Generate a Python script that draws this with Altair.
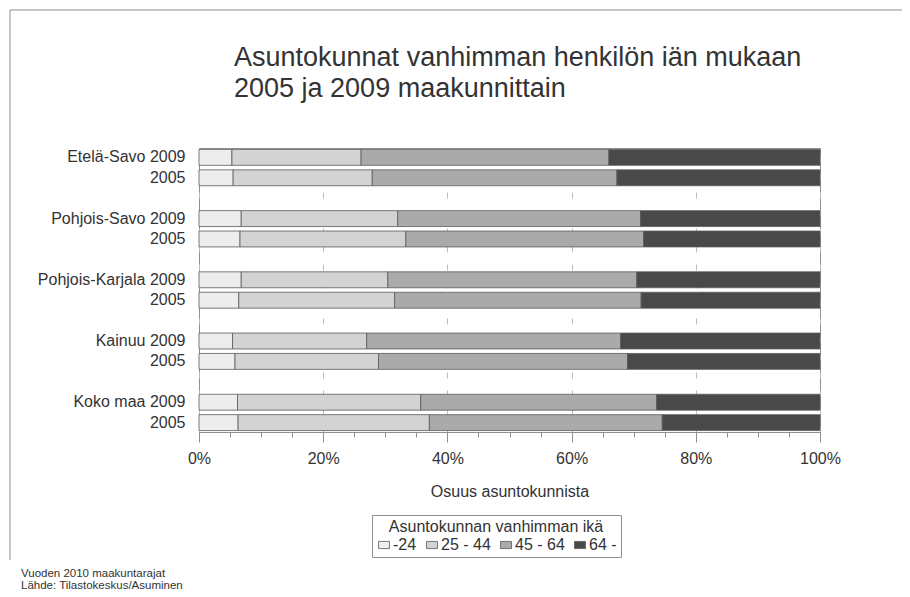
import altair as alt
import pandas as pd

# ---- data ----
regions = ["Etelä-Savo", "Pohjois-Savo", "Pohjois-Karjala", "Kainuu", "Koko maa"]
years = ["2009", "2005"]
age_groups = ["-24", "25 - 44", "45 - 64", "64 -"]
# shares (%) per row, rows ordered region by region: 2009 then 2005
share_u24 = [5.3, 5.5, 6.8, 6.6, 6.8, 6.4, 5.4, 5.8, 6.2, 6.3]
share_25_44 = [20.8, 22.4, 25.2, 26.7, 23.6, 25.1, 21.6, 23.1, 29.5, 30.8]
share_45_64 = [39.9, 39.4, 39.1, 38.3, 40.1, 39.7, 40.9, 40.1, 38.0, 37.5]
share_64p = [34.0, 32.7, 28.9, 28.4, 29.5, 28.8, 32.1, 31.0, 26.3, 25.4]
colors = ["#ededed", "#d3d3d3", "#aaaaaa", "#494949"]
title_lines = ["Asuntokunnat vanhimman henkilön iän mukaan", "2005 ja 2009 maakunnittain"]
footer_lines = ["Vuoden 2010 maakuntarajat", "Lähde: Tilastokeskus/Asuminen"]
x_title = "Osuus asuntokunnista"
legend_title = "Asuntokunnan vanhimman ikä"
major_ticks = [0, 0.2, 0.4, 0.6, 0.8, 1.0]
minor_ticks = [i / 20 for i in range(21)]

# ---- build table ----
row_keys = [f"{r} {y}" for r in regions for y in years]
series = [share_u24, share_25_44, share_45_64, share_64p]
records = []
for i, key in enumerate(row_keys):
    for g, (grp, vals) in enumerate(zip(age_groups, series)):
        records.append({"row": key, "age": grp, "order": g, "share": vals[i]})
df = pd.DataFrame(records)

# y domain with empty spacer rows between regions
y_domain = []
for k, r in enumerate(regions):
    y_domain += [f"{r} {y}" for y in years]
    if k < len(regions) - 1:
        y_domain.append(f"gap{k}")

FONT = "Liberation Sans"
TXT = "#333333"
FRAME = "#8f8f8f"

one = alt.Data(values=[{}])

frame_top = alt.Chart(one).mark_rule(color=FRAME, strokeWidth=1).encode(
    x=alt.value(-189), x2=alt.value(760), y=alt.value(-138)
)
frame_left = alt.Chart(one).mark_rule(color=FRAME, strokeWidth=1).encode(
    x=alt.value(-189), y=alt.value(-138), y2=alt.value(412)
)

title = alt.Chart(pd.DataFrame({"txt": ["\n".join(title_lines)]})).mark_text(
    align="left", baseline="alphabetic", fontSize=27, font=FONT, color=TXT,
    lineBreak="\n", lineHeight=31,
).encode(text="txt:N", x=alt.value(35), y=alt.value(-82))

bars = alt.Chart(df).mark_bar(stroke="#5a5a5a", strokeWidth=0.8).encode(
    y=alt.Y(
        "row:N",
        scale=alt.Scale(domain=y_domain, paddingInner=0.22, paddingOuter=0.07),
        axis=alt.Axis(
            title=None,
            domain=False,
            ticks=False,
            labelPadding=14,
            labelFontSize=16,
            labelFont=FONT,
            labelColor=TXT,
            labelExpr="indexof(datum.value, 'gap') >= 0 ? '' : (indexof(datum.value, '2005') >= 0 ? '2005' : datum.value)",
        ),
    ),
    x=alt.X(
        "share:Q",
        stack="normalize",
        scale=alt.Scale(domain=[0, 1], nice=False),
        axis=alt.Axis(
            values=major_ticks,
            format=".0%",
            title=x_title,
            titleFontSize=16,
            titleFont=FONT,
            titleColor=TXT,
            titleFontWeight="normal",
            titlePadding=17,
            labelFontSize=16,
            labelFont=FONT,
            labelColor=TXT,
            labelPadding=8,
            tickSize=10,
            tickColor=FRAME,
            domainColor=FRAME,
            grid=True,
            gridColor="#bdbdbd",
            gridDash=[6, 12],
            labelFlush=False,
        ),
    ),
    color=alt.Color(
        "age:N",
        scale=alt.Scale(domain=age_groups, range=colors),
        legend=alt.Legend(
            title=legend_title,
            orient="none",
            legendX=173,
            legendY=367,
            direction="horizontal",
            columns=4,
            titleAnchor="middle",
            titleFontSize=16,
            titleFont=FONT,
            titleColor=TXT,
            titleFontWeight="normal",
            titleLimit=400,
            titlePadding=2,
            labelFontSize=16,
            labelFont=FONT,
            labelColor=TXT,
            labelOffset=1,
            columnPadding=7,
            symbolType="M-1,-0.65L1,-0.65L1,0.65L-1,0.65Z",
            symbolSize=121,
            symbolStrokeColor="#5a5a5a",
            symbolStrokeWidth=0.8,
            padding=4,
            strokeColor=FRAME,
            fillColor="white",
        ),
    ),
    order=alt.Order("order:Q"),
)

minor = alt.Chart(pd.DataFrame({"t": minor_ticks})).mark_rule(opacity=0).encode(
    x=alt.X(
        "t:Q",
        scale=alt.Scale(domain=[0, 1], nice=False),
        axis=alt.Axis(
            orient="bottom",
            values=minor_ticks,
            labels=False,
            domain=False,
            grid=False,
            title=None,
            tickSize=5,
            tickColor=FRAME,
        ),
    )
)

footer = alt.Chart(pd.DataFrame({"txt": ["\n".join(footer_lines)]})).mark_text(
    align="left", baseline="alphabetic", fontSize=11.5, font=FONT, color=TXT,
    lineBreak="\n", lineHeight=12,
).encode(text="txt:N", x=alt.value(-178), y=alt.value(429))

chart = alt.layer(frame_top, frame_left, title, bars, minor, footer).resolve_axis(
    x="independent"
).properties(
    width=621,
    height=284,
    padding={"left": 191, "top": 140, "right": 82, "bottom": 160},
    autosize=alt.AutoSizeParams(type="none"),
).configure_view(stroke=FRAME, strokeWidth=1)

chart.save("out.html", embed_options={"renderer": "svg", "actions": False})
